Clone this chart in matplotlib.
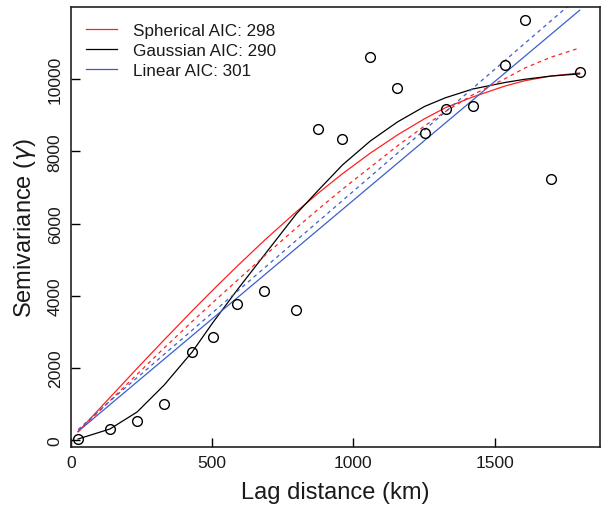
import matplotlib
matplotlib.use("Agg")
import matplotlib.pyplot as plt

plt.rcParams['font.family'] = ['Liberation Sans', 'DejaVu Sans']

# lag distances (km) and empirical semivariance
lag = [25, 138, 234, 330, 429, 504, 589, 684, 798, 876, 961, 1060,
       1156, 1252, 1326, 1422, 1535, 1606, 1699, 1801]
semivar = [41, 318, 539, 1010, 2448, 2863, 3776, 4136, 3610, 8617, 8340, 10609,
           9751, 8506, 9170, 9253, 10387, 11632, 7234, 10194]

# fitted models, evaluated at the lags
spher = [240, 1190, 1994, 2785, 3584, 4174, 4826, 5529, 6328, 6845, 7378, 7950,
         8452, 8900, 9205, 9500, 9800, 9950, 10080, 10166]
spher_dash = [240, 1100, 1830, 2560, 3290, 3830, 4430, 5100, 5880, 6400, 6950, 7560,
              8150, 8700, 9100, 9560, 10000, 10300, 10600, 10857]
gauss = [41, 318, 788, 1535, 2448, 3280, 4170, 5125, 6270, 6925, 7620, 8285,
         8811, 9240, 9480, 9720, 9900, 9990, 10080, 10140]
linear = [250, 991, 1621, 2251, 2900, 3392, 3950, 4573, 5321, 5833, 6390, 7040,
          7669, 8299, 8785, 9414, 10156, 10621, 11231, 11901]
linear_dash = [300, 1091, 1737, 2384, 3051, 3556, 4128, 4768, 5536, 6062, 6634, 7301,
               7948, 8594, 9093, 9739, 10500, 10979, 11605, 12292]

labels = ["Spherical AIC: 298", "Gaussian AIC: 290", "Linear AIC: 301"]
rojo = "#ff2020"
azul = "#3a5fcd"
texto = "#1a1a1a"

fig = plt.figure(figsize=(6.01, 5.06), dpi=100)
ax = fig.add_axes([71/601, 58/506, 529/601, 440/506])

ax.plot(lag, spher, color=rojo, lw=0.9, label=labels[0])
ax.plot(lag, gauss, color="black", lw=0.9, label=labels[1])
ax.plot(lag, linear, color=azul, lw=0.9, label=labels[2])
ax.plot(lag, spher_dash, color=rojo, lw=0.9, ls=(0, (3, 3)))
ax.plot(lag, linear_dash, color=azul, lw=0.9, ls=(0, (3, 3)))

ax.plot(lag, semivar, "o", mfc="none", mec="black", ms=7, mew=1.0, ls="none")

ax.set_xlim(0, 1873)
ax.set_ylim(-180, 11990)
ax.set_xticks([0, 500, 1000, 1500])
ax.set_yticks([0, 2000, 4000, 6000, 8000, 10000])
ax.tick_params(direction="in", length=6.5, width=1.0, labelsize=12.6, pad=6,
               labelcolor=texto)
for lab in ax.get_yticklabels():
    lab.set_rotation(90)
    lab.set_va("center")
for s in ax.spines.values():
    s.set_linewidth(1.2)
    s.set_color("#222222")

ax.set_xlabel("Lag distance (km)", fontsize=17, labelpad=8, color=texto)
ax.set_ylabel(r"Semivariance ($\gamma$)", fontsize=17, labelpad=7, color=texto)

leg = ax.legend(loc="upper left", bbox_to_anchor=(0.028, 0.963), frameon=False,
                borderaxespad=0, borderpad=0, fontsize=12.3, handlelength=1.8,
                handletextpad=0.94, labelspacing=0.28)
for t in leg.get_texts():
    t.set_color(texto)

fig.savefig("out.png", dpi=100)
